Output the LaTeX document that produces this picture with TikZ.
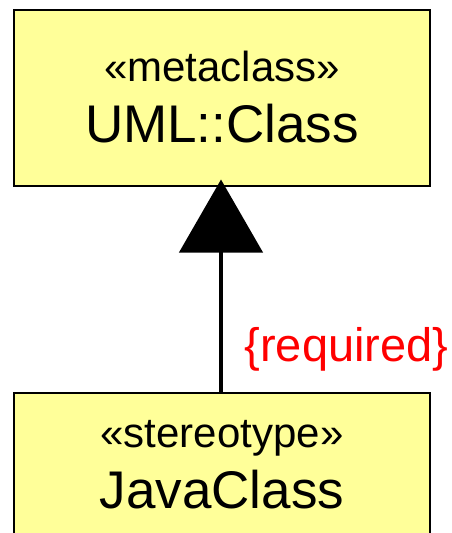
\documentclass[tikz,border=0pt]{standalone}
\usepackage{fontspec}
\setmainfont{Liberation Sans}
\usetikzlibrary{positioning, arrows.meta}
\definecolor{classyellow}{RGB}{255,255,153}
\definecolor{constraintred}{RGB}{255,0,0}

\begin{document}
\begin{tikzpicture}[
        x=1pt, y=-1pt,
        umlclass/.style={rectangle, draw=black, fill=classyellow, line width=2pt, minimum width=416pt, align=center, font=\fontsize{53}{61}\selectfont},
        generalize/.style={-{Triangle[length=73pt, width=83pt]}, line width=4.5pt, shorten >=-7pt}
    ]
        \useasboundingbox (0,0) rectangle (452,533);
        \node[umlclass, minimum height=176pt] (META) at (222,97.5) {{\fontsize{42}{61}\selectfont «metaclass»}\\UML::Class};
        \node[umlclass, minimum height=144pt] (JAVA) at (222,465) {{\fontsize{42}{61}\selectfont «stereotype»}\\JavaClass};

        \draw[generalize] (JAVA.north -| 221,0) -- (META.south -| 221,0) node[pos=0.149, anchor=base west, xshift=18pt, text=constraintred, font=\fontsize{47}{53}\selectfont] (REQ) {\{required\}};
    \end{tikzpicture}
\end{document}
